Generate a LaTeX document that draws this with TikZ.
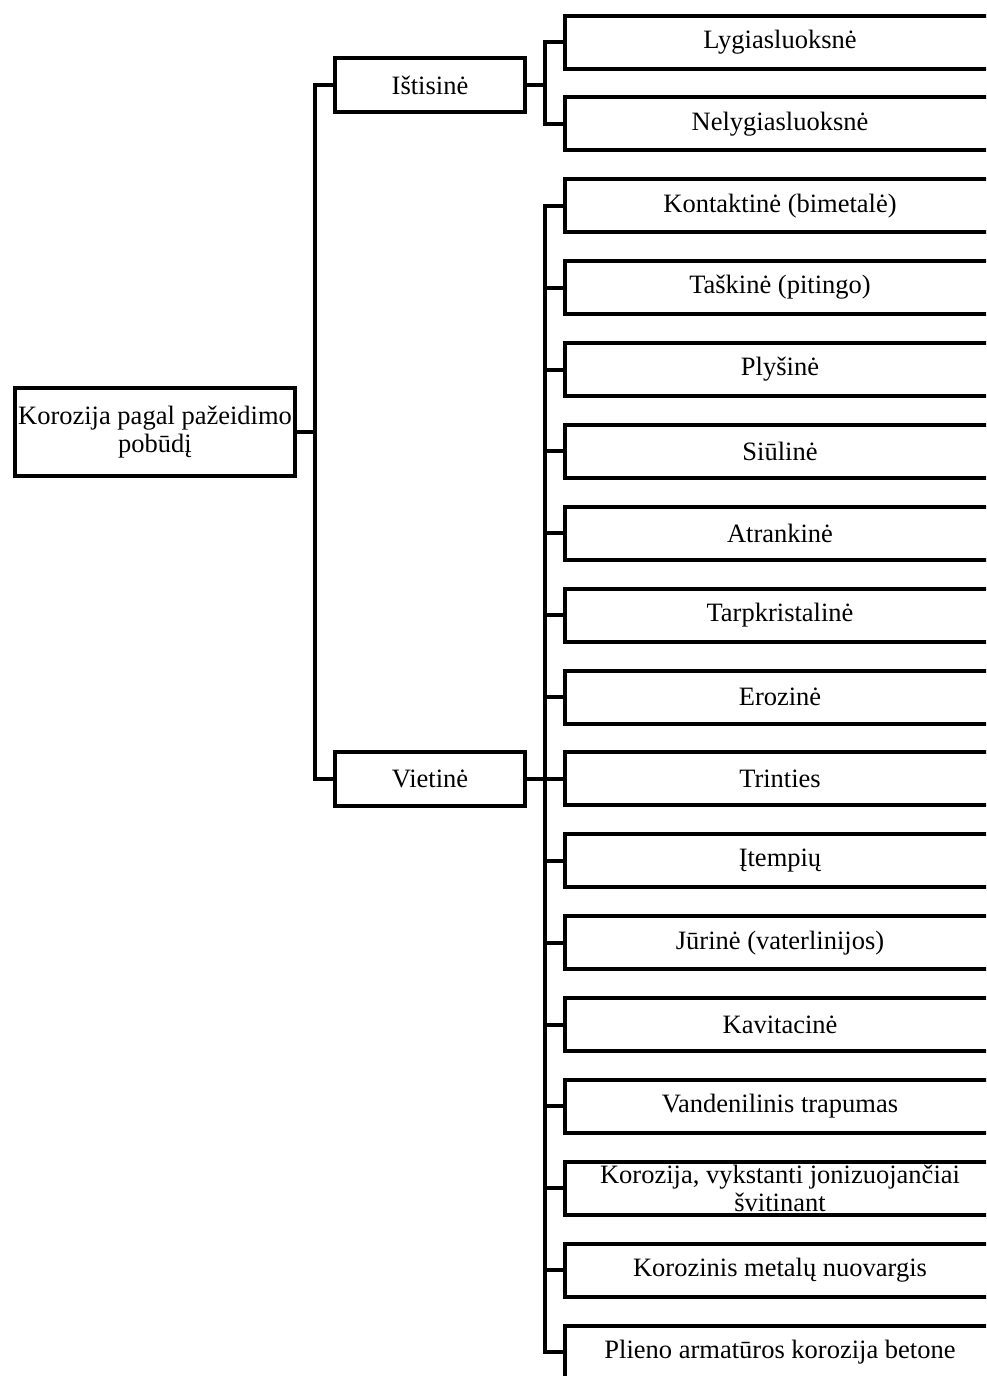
\documentclass[tikz,border=0pt]{standalone}
\usepackage{fontspec}
\setmainfont{Liberation Serif}
\begin{document}
\begin{tikzpicture}[x=1pt,y=-1pt,
  box/.style={draw, line width=4pt, fill=white, inner sep=0pt, align=center,
              font=\fontsize{26.5}{28}\selectfont},
  leaf/.style={box, minimum width=430pt, minimum height=53pt},
  mid/.style={box, minimum width=190pt, minimum height=54pt},
  link/.style={line width=4pt, line join=miter}]
\useasboundingbox (0,0) rectangle (986,1376);
\clip (0,0) rectangle (986,1376);

% root and the two main groups
\node[box, minimum width=280pt, minimum height=88pt] (root) at (155,432)
  {Korozija pagal pažeidimo\\pobūdį};
\node[mid] (isti) at (430,85) {Ištisinė};
\node[mid] (viet) at (430,779) {Vietinė};

% leaves
\foreach \t [count=\i] in {Lygiasluoksnė, Nelygiasluoksnė, Kontaktinė (bimetalė),
    Taškinė (pitingo), Plyšinė, Siūlinė, Atrankinė, Tarpkristalinė, Erozinė,
    Trinties, Įtempių, Jūrinė (vaterlinijos), Kavitacinė, Vandenilinis trapumas,
    {Korozija, vykstanti jonizuojančiai\\švitinant}, Korozinis metalų nuovargis,
    Plieno armatūros korozija betone}
  \node[leaf] (l\i) at (780,{42+(\i-1)*81.875}) {\t};

% connectors
\coordinate (trunk) at (315,0);
\coordinate (br) at (545,0);
\draw[link] (root.east) -- (root.east -| trunk);
\draw[link] (isti.west) -- (isti.west -| trunk) -- (viet.west -| trunk) -- (viet.west);
\draw[link] (isti.east) -- (isti.east -| br);
\draw[link] (l1.west) -- (l1.west -| br) -- (l2.west -| br) -- (l2.west);
\draw[link] (viet.east) -- (viet.east -| br);
\draw[link] (l3.west) -- (l3.west -| br) -- (l17.west -| br) -- (l17.west);
\foreach \i in {4,...,16}
  \draw[link] (l\i.west) -- (l\i.west -| br);
\end{tikzpicture}
\end{document}
